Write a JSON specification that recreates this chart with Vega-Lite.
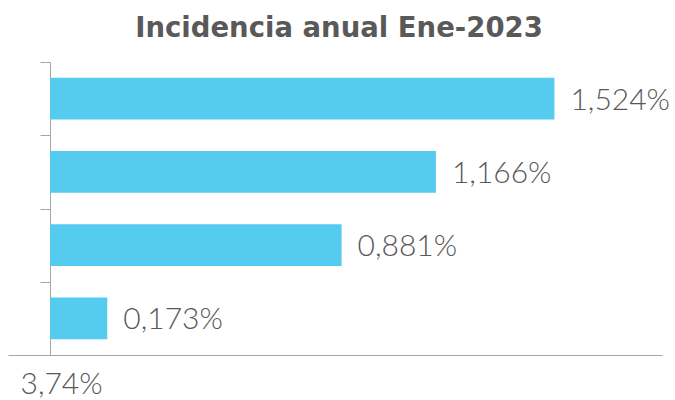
{
  "$schema": "https://vega.github.io/schema/vega-lite/v6.json",
  "autosize": "none",
  "width": 654,
  "height": 293,
  "padding": {"left": 8, "top": 62, "right": 13, "bottom": 45},
  "background": "white",
  "config": {
    "view": {"stroke": null},
    "locale": {"number": {"decimal": ",", "thousands": ".", "grouping": [3], "currency": ["", " €"]}}
  },
  "title": {
    "text": "Incidencia anual Ene-2023",
    "font": "DejaVu Sans",
    "fontSize": 27.5,
    "fontWeight": "bold",
    "color": "#595959",
    "offset": 19,
    "anchor": "middle",
    "dx": 4
  },
  "data": {
    "values": [
      {"cat": "A", "value": 0.01524},
      {"cat": "B", "value": 0.01166},
      {"cat": "C", "value": 0.00881},
      {"cat": "D", "value": 0.00173}
    ]
  },
  "encoding": {
    "y": {
      "field": "cat",
      "type": "nominal",
      "sort": null,
      "scale": {"paddingInner": 0, "paddingOuter": 0},
      "axis": {
        "title": null,
        "labels": false,
        "offset": -42,
        "tickBand": "extent",
        "tickSize": 10,
        "tickColor": "#a6a6a6",
        "domainColor": "#a6a6a6",
        "tickWidth": 1,
        "domainWidth": 1
      }
    },
    "x": {
      "field": "value",
      "type": "quantitative",
      "scale": {"domain": [-0.001269, 0.01849], "nice": false, "zero": false},
      "axis": {
        "title": "3,74%",
        "titleFont": "Lato",
        "titleFontWeight": 300,
        "titleFontSize": 30,
        "titleColor": "#595959",
        "titleAnchor": "start",
        "titleAlign": "left",
        "titleX": 12,
        "titleY": 38,
        "titleBaseline": "alphabetic",
        "labels": false,
        "ticks": false,
        "grid": false,
        "domainColor": "#a6a6a6",
        "domainWidth": 1
      }
    }
  },
  "layer": [
    {"mark": {"type": "bar", "color": "#55CCEF", "height": {"band": 0.57}}},
    {
      "mark": {
        "type": "text",
        "align": "left",
        "baseline": "middle",
        "dx": 16,
        "dy": 2,
        "font": "Lato",
        "fontWeight": 300,
        "fontSize": 30,
        "color": "#595959"
      },
      "encoding": {"text": {"field": "value", "type": "quantitative", "format": ".3%"}}
    }
  ]
}
